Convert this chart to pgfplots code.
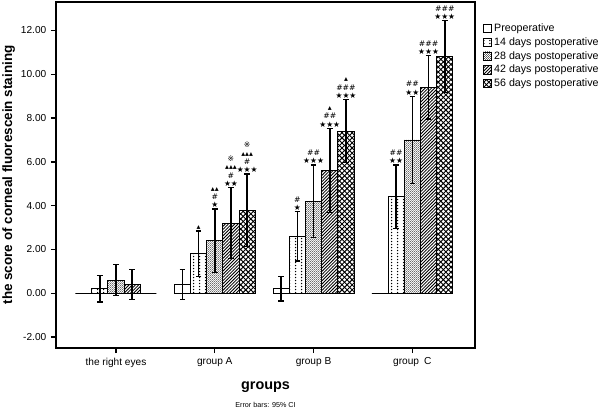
\documentclass[border=0pt]{standalone}
\usepackage{fontspec}
\setmainfont{Liberation Sans}
\newfontfamily\sym{DejaVu Sans}
\usepackage{pgfplots}
\pgfplotsset{compat=1.18}
\usetikzlibrary{patterns}

\pgfdeclarepatternformonly{vdots}{\pgfqpoint{0pt}{0pt}}{\pgfqpoint{4.2pt}{2.2pt}}{\pgfqpoint{4.2pt}{2.2pt}}{%
  \pgfpathcircle{\pgfqpoint{2.1pt}{1.1pt}}{0.55pt}\pgfusepath{fill}}
\pgfdeclarepatternformonly{finedots}{\pgfqpoint{0pt}{0pt}}{\pgfqpoint{1.7pt}{1.7pt}}{\pgfqpoint{1.7pt}{1.7pt}}{%
  \pgfpathcircle{\pgfqpoint{0.42pt}{0.42pt}}{0.36pt}\pgfusepath{fill}%
  \pgfpathcircle{\pgfqpoint{1.27pt}{1.27pt}}{0.36pt}\pgfusepath{fill}}
\pgfdeclarepatternformonly{diaglines}{\pgfqpoint{-1pt}{-1pt}}{\pgfqpoint{3.4pt}{3.4pt}}{\pgfqpoint{2.4pt}{2.4pt}}{%
  \pgfsetlinewidth{0.6pt}\pgfpathmoveto{\pgfqpoint{-0.1pt}{-0.1pt}}\pgfpathlineto{\pgfqpoint{2.5pt}{2.5pt}}\pgfusepath{stroke}}
\pgfdeclarepatternformonly{xhatch}{\pgfqpoint{-1pt}{-1pt}}{\pgfqpoint{4.8pt}{4.8pt}}{\pgfqpoint{3.8pt}{3.8pt}}{%
  \pgfsetlinewidth{0.7pt}\pgfpathmoveto{\pgfqpoint{-0.1pt}{-0.1pt}}\pgfpathlineto{\pgfqpoint{3.9pt}{3.9pt}}%
  \pgfpathmoveto{\pgfqpoint{-0.1pt}{3.9pt}}\pgfpathlineto{\pgfqpoint{3.9pt}{-0.1pt}}\pgfusepath{stroke}}

\newcommand{\ann}[3]{\node[anchor=south, align=center, font=\sym\fontsize{5.8}{6.3}\selectfont, inner sep=0.6pt] at (axis cs:#1,#2) {#3};}

\begin{document}
\begin{tikzpicture}
\begin{axis}[
  scale only axis, width=314.25pt, height=259.5pt,
  xmin=-0.607, xmax=3.634, ymin=-2.5, ymax=13.3,
  enlargelimits=false, clip=false,
  ybar, bar width=0.164,
  xtick={0,1,2,3},
  xticklabels={the right eyes, group A, group B, group\enspace C},
  ytick={-2,0,2,4,6,8,10,12},
  yticklabel style={/pgf/number format/.cd, fixed, fixed zerofill, precision=2, assume math mode=true},
  ticklabel style={font=\fontsize{7.6}{9}\selectfont},
  tick align=outside, xtick pos=left, ytick pos=left,
  major tick length=3.75pt,
  every tick/.style={black, line width=1pt},
  axis line style={line width=0.9pt},
  ylabel={the score of corneal fluorescein staining},
  ylabel style={font=\fontsize{10.1}{11}\selectfont\bfseries, at={(axis description cs:0,0.5)}, anchor=center, rotate=0, yshift=35.5pt},
  xlabel={groups},
  xlabel style={font=\fontsize{10.8}{12}\selectfont\bfseries, at={(axis description cs:0.5,0)}, anchor=center, yshift=-29.5pt},
  legend style={draw=none, fill=none, at={(axis description cs:1,1)}, anchor=north west, xshift=6pt, yshift=-14pt,
    font=\fontsize{8}{9}\selectfont, inner sep=0pt, row sep=-0.9pt, cells={anchor=west}},
  legend image code/.code={\draw[#1] (0pt,-2.9pt) rectangle (5.6pt,3.2pt);},
  every axis plot/.append style={draw=black, line width=0.6pt},
  error bars/y dir=both, error bars/y explicit,
  error bars/error bar style={line width=1.1pt, black},
  error bars/error mark options={rotate=90, mark size=2.1pt, line width=0.9pt, black},
]
\addplot[fill=white, bar shift=-0.328] coordinates {(0,0) +- (0,0) (1,0.4) +- (0,0.7) (2,0.2) +- (0,0.55) (3,0) +- (0,0)};
\addplot[pattern=vdots, bar shift=-0.164] coordinates {(0,0.2) +- (0,0.6) (1,1.8) +- (0,1.04) (2,2.6) +- (0,1.13) (3,4.4) +- (0,1.46)};
\addplot[pattern=finedots, bar shift=0] coordinates {(0,0.6) +- (0,0.7) (1,2.4) +- (0,1.45) (2,4.2) +- (0,1.66) (3,7.0) +- (0,2.0)};
\addplot[pattern=diaglines, bar shift=0.164] coordinates {(0,0.4) +- (0,0.7) (1,3.2) +- (0,1.62) (2,5.6) +- (0,1.93) (3,9.4) +- (0,1.44)};
\addplot[pattern=xhatch, bar shift=0.328] coordinates {(0,0) +- (0,0) (1,3.8) +- (0,1.65) (2,7.4) +- (0,1.44) (3,10.8) +- (0,1.65)};
\legend{Preoperative, 14 days postoperative, 28 days postoperative, 42 days postoperative, 56 days postoperative}

\ann{0.836}{2.84}{▴}
\ann{1.0}{3.85}{▴▴\\\#\\★}
\ann{1.164}{4.82}{※\\▴▴▴\\\#\\★★}
\ann{1.328}{5.45}{※\\▴▴▴\\\#\\★★★}
\ann{1.836}{3.73}{\#\\★}
\ann{2.0}{5.86}{\#\#\\★★★}
\ann{2.164}{7.53}{▴\\\#\#\\★★★}
\ann{2.328}{8.84}{▴\\\#\#\#\\★★★}
\ann{2.836}{5.86}{\#\#\\★★}
\ann{3.0}{9.0}{\#\#\\★★}
\ann{3.164}{10.84}{\#\#\#\\★★★}
\ann{3.328}{12.45}{\#\#\#\\★★★}

\node[font=\fontsize{5.4}{6}\selectfont, anchor=center] at (axis description cs:0.5,0) [yshift=-42.75pt] {Error bars: 95\% CI};
\end{axis}
\pgfresetboundingbox
\path[use as bounding box] ([shift={(-42pt,-49.5pt)}]current axis.south west) rectangle ([shift={(93.75pt,1.5pt)}]current axis.north east);
\end{tikzpicture}
\end{document}
